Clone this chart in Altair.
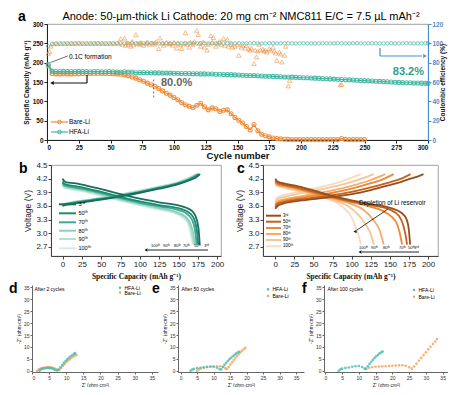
import altair as alt
import pandas as pd

FONT = "Liberation Sans"
ORANGE = "#ee8a35"
TEAL = "#3fb6a2"
BLUE = "#4a8fcf"

# ---------------- panel a data ----------------
A_TITLE = "Anode: 50-µm-thick Li Cathode: 20 mg cm⁻² NMC811 E/C = 7.5 µL mAh⁻²"
CYCLE_TICKS = list(range(0, 301, 25))
CAP_TICKS = list(range(0, 301, 50))
CE_TICKS = list(range(0, 121, 20))

HFA_CYC = list(range(1, 299, 3)) + [300]
HFA_CAP = [195, 178, 177, 177, 177.5, 177, 177, 177, 177.5, 177,
           177, 176.5, 177, 177, 176.5, 176.5, 177, 176.5, 176, 176,
           176.5, 176, 176, 174, 174.5, 174.5, 174, 174, 173.5, 173.5,
           173, 173, 173, 172.5, 172.5, 172, 172, 172, 171.5, 171.5,
           171, 171, 170.5, 170.5, 170, 170, 169.5, 169, 169, 168.5,
           168, 167.5, 167, 167, 166.5, 166, 165.5, 165, 165, 164.5,
           164, 163.5, 163, 163, 162.5, 162, 161.5, 161, 161, 160.5,
           160, 159.5, 159, 158.5, 158, 157.5, 157, 156.5, 156, 155.5,
           155, 154.5, 154, 153.5, 153, 152.5, 152, 151.5, 151, 150.5,
           150, 149.5, 149, 148.5, 148, 148, 147.5, 147.5, 147, 146.5,
           146.5]
HFA_CE = [97.0, 99.4, 99.7, 99.8, 99.9, 100.0, 99.9, 100.0, 100.1, 100.0,
          100.0, 99.9, 100.0, 100.1, 100.0, 99.9, 100.0, 100.0, 100.1, 100.0,
          99.9, 100.0, 100.1, 100.0, 99.9, 100.0, 100.0, 100.1, 100.0, 99.9,
          100.0, 100.1, 100.0, 99.9, 100.0, 100.0, 100.1, 100.0, 99.9, 100.0,
          100.1, 100.0, 99.9, 100.0, 100.0, 100.1, 100.0, 99.9, 100.0, 100.1,
          100.0, 99.9, 100.0, 100.0, 100.1, 100.0, 99.9, 100.0, 100.1, 100.0,
          99.9, 100.0, 100.0, 100.1, 100.0, 99.9, 100.0, 100.1, 100.0, 99.9,
          100.0, 100.0, 100.1, 100.0, 99.9, 100.0, 100.1, 100.0, 99.9, 100.0,
          100.0, 100.1, 100.0, 99.9, 100.0, 100.1, 100.0, 99.9, 100.0, 100.0,
          100.1, 100.0, 99.9, 100.0, 100.1, 100.0, 99.9, 100.0, 100.0, 100.1,
          100.0]

BARE_CYC = list(range(1, 191, 3)) + list(range(193, 251, 3))
BARE_CAP = [192, 172, 171, 171, 171.5, 171, 171, 171.5, 171.5, 172,
            172, 172, 172, 172, 172, 172, 172, 171.5, 171, 170,
            168, 166, 163, 160, 156, 152, 147, 143, 139, 133,
            127, 121, 116, 110, 104, 97, 91, 87, 84, 90,
            95, 86, 78, 83, 81, 74, 77, 78, 68, 58,
            51, 44, 35, 26, 40, 24, 15, 11, 8, 5,
            4, 3, 2, 1.5,
            1, 1, 1, 1, 1, 1, 1, 1, 1, 1,
            1, 1, 1, 4, 1.5, 1, 1, 1, 1, 1]

BARE_CE_CYC = [1, 2, 3, 5, 8, 11, 14, 17, 20, 23, 26, 29, 32, 35, 38, 41, 44, 47, 50, 53,
               56, 58, 59, 61, 62, 63, 64, 66, 67, 68,
               70, 71, 73, 74, 76, 78, 79, 81, 83, 85,
               86, 88, 89, 91, 92, 94, 96, 97, 99, 100,
               102, 103, 105, 106, 108, 109, 110, 112, 113, 115,
               116, 118, 119, 120, 121, 123, 124, 126, 127, 129,
               130, 131, 133, 134, 136, 137, 139, 140, 142, 143,
               145, 146, 148, 150, 151, 153, 154, 156, 157, 159,
               160, 161, 163, 164, 165, 166, 167, 168, 170, 171,
               172, 173, 175, 176, 178, 179, 180, 181, 183, 184,
               185, 187, 188, 190, 191, 231, 232]
BARE_CE = [89.5, 91.5, 97, 99.5, 99.7, 99.8, 99.8, 99.9, 99.8, 99.9, 99.9, 99.8, 99.9, 99.9, 99.8, 99.9, 99.9, 99.8, 99.9, 99.7,
           100, 104.8, 99, 105.5, 98, 101, 99, 97, 102, 98.5,
           109, 100, 99, 101, 98, 100, 101.5, 99, 100.5, 99,
           102, 94.5, 105.5, 100, 98, 101, 99.5, 100, 98, 101,
           95, 100, 98.5, 94.5, 100, 111, 99, 96, 101, 99,
           102, 113.5, 109, 100, 97, 101, 96, 93, 99, 108,
           101, 106, 97, 100, 102, 99, 105, 98, 104, 97,
           99, 96, 97, 98.6, 87.6, 96, 98, 95, 98, 94,
           93, 95, 79, 93, 86, 92, 99, 93, 94, 92,
           93, 91, 94.5, 93, 96, 92, 90, 82.4, 91, 89,
           80.7, 87.6, 97, 55.9, 61.7, 57, 57.5]

RETENTION_CYCLE = [84]
RETENTION_LOW = [110]
RETENTION_HIGH = [158]

# ---------------- panels b / c data ----------------
CYCLE_LABELS = ["3ʳᵈ", "50ᵗʰ", "70ᵗʰ", "80ᵗʰ", "90ᵗʰ", "100ᵗʰ"]
ARROW_LABELS = ["100ᵗʰ", "90ᵗʰ", "80ᵗʰ", "70ᵗʰ", "50ᵗʰ", "3ʳᵈ"]
V_TICKS = [2.7, 3.0, 3.3, 3.6, 3.9, 4.2, 4.5]
CAP_X_TICKS = list(range(0, 201, 25))

B_COLORS = ["#17705d", "#1f8a72", "#3aa98f", "#8ccfbd", "#b2dfd2", "#d3eee6"]
B_CHG_CAP = [[0, 3, 10, 25, 50, 75, 100, 125, 150, 165, 172, 178],
             [0, 3, 10, 25, 50, 75, 100, 125, 150, 165, 171, 177],
             [0, 3, 10, 25, 50, 75, 100, 125, 150, 164, 170, 176],
             [0, 3, 10, 25, 50, 75, 100, 125, 150, 163, 169, 175],
             [0, 3, 10, 25, 50, 75, 100, 125, 150, 162, 168, 174],
             [0, 3, 10, 25, 50, 75, 100, 125, 150, 161, 167, 173]]
B_CHG_V = [[3.60, 3.62, 3.64, 3.68, 3.74, 3.81, 3.89, 3.98, 4.08, 4.17, 4.22, 4.30],
           [3.61, 3.63, 3.65, 3.69, 3.75, 3.82, 3.90, 3.99, 4.09, 4.18, 4.23, 4.30],
           [3.61, 3.63, 3.66, 3.70, 3.76, 3.83, 3.91, 4.00, 4.10, 4.19, 4.24, 4.30],
           [3.62, 3.64, 3.67, 3.71, 3.77, 3.84, 3.92, 4.01, 4.11, 4.19, 4.24, 4.30],
           [3.62, 3.64, 3.67, 3.71, 3.77, 3.85, 3.93, 4.02, 4.12, 4.20, 4.25, 4.30],
           [3.63, 3.65, 3.68, 3.72, 3.78, 3.86, 3.94, 4.03, 4.13, 4.20, 4.25, 4.30]]
B_DIS_CAP = [[0, 2, 5, 15, 25, 50, 75, 100, 125, 150, 160, 168, 172, 175, 176.5, 177.5],
             [0, 2, 5, 15, 25, 50, 75, 100, 125, 150, 159, 166, 170, 173, 174.5, 175.5],
             [0, 2, 5, 15, 25, 50, 75, 100, 125, 150, 158, 164, 168, 171, 172.5, 173.5],
             [0, 2, 5, 15, 25, 50, 75, 100, 125, 145, 154, 160, 164, 168, 170, 171.5],
             [0, 2, 5, 15, 25, 50, 75, 100, 125, 145, 153, 159, 163, 166.5, 168.5, 170],
             [0, 2, 5, 15, 25, 50, 75, 100, 125, 145, 152, 158, 162, 165, 167, 168.5]]
B_DIS_V = [[4.20, 4.15, 4.12, 4.10, 4.07, 3.97, 3.86, 3.76, 3.68, 3.61, 3.56, 3.48, 3.38, 3.20, 3.00, 2.75],
           [4.14, 4.09, 4.07, 4.04, 4.01, 3.91, 3.80, 3.70, 3.62, 3.55, 3.50, 3.42, 3.32, 3.14, 2.95, 2.75],
           [4.11, 4.06, 4.04, 4.01, 3.98, 3.88, 3.77, 3.67, 3.59, 3.51, 3.46, 3.38, 3.28, 3.10, 2.92, 2.75],
           [4.09, 4.04, 4.02, 3.99, 3.96, 3.86, 3.75, 3.65, 3.56, 3.48, 3.42, 3.35, 3.26, 3.08, 2.90, 2.75],
           [4.07, 4.02, 4.00, 3.97, 3.94, 3.84, 3.73, 3.63, 3.54, 3.46, 3.40, 3.33, 3.24, 3.06, 2.88, 2.75],
           [4.05, 4.00, 3.98, 3.95, 3.92, 3.82, 3.71, 3.61, 3.52, 3.44, 3.38, 3.31, 3.22, 3.04, 2.87, 2.75]]

C_COLORS = ["#9a4d1c", "#c4621c", "#e98a34", "#f2ad6e", "#f6c796", "#f9dcc0"]
C_CHG_CAP = [[0, 3, 10, 25, 50, 75, 100, 125, 150, 165, 175, 185, 194],
             [0, 3, 10, 25, 50, 75, 100, 125, 150, 165, 177],
             [0, 3, 10, 25, 50, 75, 100, 125, 140, 155],
             [0, 3, 10, 25, 50, 75, 100, 125, 144],
             [0, 3, 10, 25, 50, 75, 100, 115, 129],
             [0, 3, 10, 25, 50, 75, 95, 112]]
C_CHG_V = [[3.54, 3.60, 3.65, 3.70, 3.75, 3.80, 3.86, 3.95, 4.06, 4.13, 4.19, 4.24, 4.30],
           [3.58, 3.64, 3.68, 3.73, 3.78, 3.84, 3.91, 4.01, 4.12, 4.20, 4.30],
           [3.61, 3.67, 3.71, 3.76, 3.82, 3.89, 3.98, 4.10, 4.18, 4.30],
           [3.64, 3.70, 3.74, 3.79, 3.86, 3.94, 4.04, 4.17, 4.30],
           [3.68, 3.75, 3.79, 3.85, 3.93, 4.02, 4.13, 4.21, 4.30],
           [3.72, 3.79, 3.83, 3.89, 3.98, 4.08, 4.19, 4.30]]
C_DIS_CAP = [[0, 3, 10, 25, 50, 75, 100, 125, 150, 165, 172, 175, 176.5],
             [0, 3, 10, 25, 50, 75, 100, 125, 150, 162, 168, 171, 172.5],
             [0, 3, 10, 25, 50, 75, 100, 125, 145, 158, 163, 166],
             [0, 3, 10, 25, 50, 75, 100, 115, 128, 137, 142],
             [0, 3, 10, 25, 50, 75, 95, 108, 118, 125, 129],
             [0, 3, 10, 25, 50, 75, 90, 100, 106, 110, 112]]
C_DIS_V = [[4.20, 4.14, 4.10, 4.05, 3.94, 3.82, 3.72, 3.64, 3.56, 3.45, 3.30, 3.05, 2.75],
           [4.16, 4.11, 4.07, 4.02, 3.91, 3.80, 3.70, 3.62, 3.52, 3.38, 3.15, 2.92, 2.75],
           [4.13, 4.08, 4.05, 4.00, 3.89, 3.78, 3.68, 3.58, 3.45, 3.25, 3.00, 2.75],
           [4.11, 4.06, 4.03, 3.98, 3.87, 3.76, 3.64, 3.52, 3.30, 3.05, 2.75],
           [4.09, 4.05, 4.02, 3.96, 3.85, 3.73, 3.60, 3.42, 3.20, 2.98, 2.75],
           [4.07, 4.03, 4.00, 3.94, 3.83, 3.72, 3.55, 3.35, 3.10, 2.90, 2.75]]

# ---------------- panels d / e / f data (Nyquist) ----------------
Z_TICKS = list(range(0, 36, 5))
NQ_TEAL = "#4cbfae"
NQ_ORANGE = "#f6a564"

D_HFA_RE = [2.2, 2.5, 3, 3.5, 4, 4.5, 5, 5.5, 6, 6.5, 7, 7.4, 7.8, 8.3, 8.8, 9.3, 9.8, 10.3, 10.8, 11.3, 11.8, 12.3, 12.6]
D_HFA_IM = [0, 0.5, 0.8, 1.0, 1.15, 1.2, 1.2, 1.1, 0.9, 0.6, 0.3, 0.2, 0.6, 1.5, 2.4, 3.3, 4.1, 4.8, 5.5, 6.1, 6.6, 7.1, 7.4]
D_BARE_RE = [1.5, 2, 2.5, 3, 3.5, 4, 4.5, 5, 5.5, 6, 6.5, 7, 7.5, 8, 8.5, 9, 9.5, 10, 10.5, 11, 11.5, 12, 12.5, 13]
D_BARE_IM = [0, 0.6, 0.9, 1.15, 1.3, 1.4, 1.5, 1.5, 1.45, 1.3, 1.0, 0.6, 0.3, 0.4, 1.2, 2.0, 2.8, 3.6, 4.3, 4.9, 5.5, 5.9, 6.3, 6.6]

E_HFA_RE = [3, 3.5, 4, 5, 6, 7, 8, 9, 10, 11, 11.8, 12.3, 12.8, 13.3, 13.8, 14.3, 14.8, 15.3, 15.8, 16.3, 16.8, 17.3, 17.7]
E_HFA_IM = [0, 0.5, 0.8, 1.1, 1.3, 1.5, 1.7, 1.8, 1.7, 1.3, 0.7, 0.6, 1.6, 2.5, 3.3, 4.1, 4.8, 5.5, 6.1, 6.7, 7.2, 7.7, 8.0]
E_BARE_RE = [5, 5.5, 6, 7, 8, 9, 10, 11, 12, 13, 13.6, 14.1, 14.6, 15.1, 15.6, 16.1, 16.6, 17.1, 17.6, 18.1, 18.6, 19.1, 19.6]
E_BARE_IM = [0, 0.6, 0.9, 1.2, 1.5, 1.7, 1.8, 1.9, 1.9, 1.7, 1.0, 0.8, 1.6, 2.6, 3.6, 4.5, 5.4, 6.2, 7.0, 7.7, 8.4, 9.0, 9.6]

F_HFA_RE = [4, 4.5, 5, 6, 7, 8, 9, 10, 11, 11.7, 12.2, 12.7, 13.2, 13.7, 14.2, 14.7, 15.2, 15.7, 16.2, 16.7, 17.1]
F_HFA_IM = [0, 0.6, 0.9, 1.2, 1.4, 1.7, 1.9, 2.0, 1.6, 0.9, 0.9, 1.9, 2.9, 3.8, 4.6, 5.4, 6.1, 6.7, 7.3, 7.8, 8.1]
F_BARE_RE = [12, 13, 14, 15, 16, 17, 18, 19, 20, 21, 22, 23, 24, 25, 25.8, 26.5, 27.2, 27.9, 28.6, 29.3, 30, 30.7, 31.4, 32.1, 32.8, 33.3]
F_BARE_IM = [0.8, 1.3, 1.5, 1.7, 1.8, 1.9, 1.9, 2.0, 2.1, 2.2, 2.3, 2.3, 2.1, 1.5, 0.9, 1.8, 3.0, 4.2, 5.4, 6.6, 7.8, 9.0, 10.1, 11.2, 12.3, 13.3]


# ---------------- helpers ----------------
def T(s, x, y, size, color="black", weight="normal", align="left", baseline="alphabetic", font=FONT):
    return alt.Chart(pd.DataFrame({"t": [s]})).mark_text(
        align=align, baseline=baseline, fontSize=size, fontWeight=weight, color=color, font=font
    ).encode(x=alt.value(x), y=alt.value(y), text="t:N")


def R(x1, y1, x2, y2, color, w=1.0):
    return alt.Chart(pd.DataFrame({"s": [0]})).mark_rule(color=color, strokeWidth=w).encode(
        x=alt.value(x1), y=alt.value(y1), x2=alt.value(x2), y2=alt.value(y2))


def H(x, y, shape, color, size):
    return alt.Chart(pd.DataFrame({"s": [0]})).mark_point(
        shape=shape, filled=True, color=color, size=size, opacity=1, strokeWidth=0).encode(
        x=alt.value(x), y=alt.value(y))


def P(x, y, color, size, filled=True):
    return alt.Chart(pd.DataFrame({"s": [0]})).mark_point(
        shape="circle", filled=filled, color=color, size=size, opacity=1, strokeWidth=1).encode(
        x=alt.value(x), y=alt.value(y))


def M(x, y):
    # invisible extent marker (fixes the bounding box used by the concat layout)
    return alt.Chart(pd.DataFrame({"s": [0]})).mark_point(size=1, opacity=0).encode(
        x=alt.value(x), y=alt.value(y))


def spacer(w, h):
    return alt.Chart(pd.DataFrame({"s": [0]})).mark_point(size=1, opacity=0).encode(
        x=alt.value(0), y=alt.value(0)).properties(width=w, height=h)


FRAME = alt.ViewBackground(stroke="#8a8a8a", strokeWidth=0.8, fill="white")

# ---------------- panel a ----------------
W_A, H_A = 381, 116
SC_CYC = alt.Scale(domain=[0, 300], nice=False, zero=False)
SC_CAP = alt.Scale(domain=[0, 300], nice=False)
SC_CE = alt.Scale(domain=[0, 120], nice=False)
AX_CYC = alt.Axis(values=CYCLE_TICKS, title="Cycle number", labelFontSize=6.5, labelFontWeight="bold",
                  titleFontSize=9.5, titleFontWeight="bold", tickSize=3, labelPadding=1, titlePadding=0,
                  grid=False, domainColor="#222", tickColor="#222", labelColor="#111", titleColor="#111")
AX_CAP = alt.Axis(values=CAP_TICKS, title="Specific Capacity (mAh g⁻¹)", labelFontSize=6.5,
                  labelFontWeight="bold", titleFontSize=6.5, titleFontWeight="bold", tickSize=3,
                  labelPadding=1, titlePadding=3, grid=False, domainColor="#222", tickColor="#222",
                  labelColor="#111", titleColor="#111")
AX_CE = alt.Axis(values=CE_TICKS, orient="right", title="Coulombic efficiency (%)", labelFontSize=6.5,
                 labelFontWeight="bold", titleFontSize=6.5, titleFontWeight="bold", tickSize=3,
                 labelPadding=1, titlePadding=3, grid=False, domainColor=BLUE, tickColor=BLUE,
                 labelColor=BLUE, titleColor="#111", titleAngle=270)

df_hfa = pd.DataFrame(list(zip(HFA_CYC, HFA_CAP)), columns=["cycle", "cap"])
df_hfa_ce = pd.DataFrame(list(zip(HFA_CYC, HFA_CE)), columns=["cycle", "ce"])
df_bare = pd.DataFrame(list(zip(BARE_CYC, BARE_CAP)), columns=["cycle", "cap"])
df_bare_ce = pd.DataFrame(list(zip(BARE_CE_CYC, BARE_CE)), columns=["cycle", "ce"])
df_ret = pd.DataFrame({"cycle": RETENTION_CYCLE, "lo": RETENTION_LOW, "hi": RETENTION_HIGH})

xA = alt.X("cycle:Q", scale=SC_CYC, axis=AX_CYC)
yCap = alt.Y("cap:Q", scale=SC_CAP, axis=AX_CAP)
yCE = alt.Y("ce:Q", scale=SC_CE, axis=AX_CE)

bare_line = alt.Chart(df_bare).mark_line(color=ORANGE, strokeWidth=1.2).encode(x=xA, y=yCap)
bare_pts = alt.Chart(df_bare).mark_point(shape="circle", filled=False, color=ORANGE, size=16,
                                          strokeWidth=1.1, opacity=0.9).encode(x=xA, y=yCap)
hfa_line = alt.Chart(df_hfa).mark_line(color=TEAL, strokeWidth=1.2).encode(x=xA, y=yCap)
hfa_pts = alt.Chart(df_hfa).mark_point(shape="circle", filled=False, color=TEAL, size=16,
                                        strokeWidth=1.1, opacity=0.9).encode(x=xA, y=yCap)
ret_line = alt.Chart(df_ret).mark_rule(color="#777", strokeWidth=1, strokeDash=[2, 2]).encode(
    x=xA, y=alt.Y("lo:Q", scale=SC_CAP, axis=AX_CAP), y2="hi:Q")

a_annot = [
    M(-38, -15), M(-38, 140),
    T(A_TITLE, 194, -4, 11, align="center"),
    T("a", -29, -3, 14, weight="bold"),
    T("0.1C formation", 22, 35, 6.5),
    R(20.7, 32, 3.5, 38.5, "#333", 0.7),
    R(40, 51, 40, 59, "#111", 1.2),
    R(40, 59, 7, 59, "#111", 1.2),
    H(5, 59, "triangle-left", "#111", 18),
    R(333, 24, 333, 32, BLUE, 1.2),
    R(333, 32, 375, 32, BLUE, 1.2),
    H(378, 32, "triangle-right", BLUE, 18),
    T("80.0%", 114, 58.5, 11, color="#666", weight="bold", baseline="middle"),
    T("83.2%", 377, 48, 11, color="#2e9e8c", weight="bold", align="right", baseline="middle"),
    R(4, 98, 21, 98, ORANGE, 1.2), P(12.5, 98, ORANGE, 14, filled=False),
    T("Bare-Li", 22, 98, 6.5, baseline="middle"),
    R(4, 108, 21, 108, TEAL, 1.2), P(12.5, 108, TEAL, 14, filled=False),
    T("HFA-Li", 22, 108, 6.5, baseline="middle"),
]

cap_layer = alt.layer(bare_line, bare_pts, hfa_line, hfa_pts, ret_line, *a_annot)
hfa_ce_pts = alt.Chart(df_hfa_ce).mark_point(shape="circle", filled=False, color=TEAL, size=12,
                                              strokeWidth=1).encode(x=xA, y=yCE)
bare_ce_pts = alt.Chart(df_bare_ce).mark_point(shape="triangle-up", filled=False, color=ORANGE, size=20,
                                                strokeWidth=0.8).encode(x=xA, y=yCE)
ce_layer = alt.layer(hfa_ce_pts, bare_ce_pts)
panel_a = alt.layer(cap_layer, ce_layer).resolve_scale(y="independent").properties(
    width=W_A, height=H_A, view=FRAME)

# ---------------- panels b, c ----------------
H_V = 91
AX_VX = alt.Axis(values=CAP_X_TICKS, title="Specific Capacity (mAh g⁻¹)", labelFontSize=8,
                 titleFont="Liberation Serif", titleFontSize=7.5, titleFontWeight="bold",
                 tickSize=3, labelPadding=1, titlePadding=4, grid=False,
                 domainColor="#444", tickColor="#444", labelColor="#222", titleColor="#111")
AX_VY = alt.Axis(values=V_TICKS, format=".1f", title="Voltage (V)", labelFontSize=8, titleFontSize=8.5,
                 titleFontWeight="normal", tickSize=3, labelPadding=1, titlePadding=3, grid=False,
                 domainColor="#444", tickColor="#444", labelColor="#222", titleColor="#222")


def volt_panel(colors, chg_caps, chg_vs, dis_caps, dis_vs, xdom, width, extras):
    x = alt.X("cap:Q", scale=alt.Scale(domain=xdom, nice=False, zero=False), axis=AX_VX)
    y = alt.Y("v:Q", scale=alt.Scale(domain=[2.5, 4.5], nice=False, zero=False), axis=AX_VY)
    layers = []
    for i in reversed(range(len(colors))):
        for caps, vs in ((chg_caps[i], chg_vs[i]), (dis_caps[i], dis_vs[i])):
            df = pd.DataFrame(list(zip(caps, vs, range(len(caps)))), columns=["cap", "v", "o"])
            layers.append(alt.Chart(df).mark_line(color=colors[i], strokeWidth=1.8,
                                                  interpolate="monotone").encode(x=x, y=y, order="o:Q"))
    return alt.layer(*layers, *extras).properties(width=width, height=H_V, view=FRAME)


b_extras = [M(-42, -7), M(-42, 116), T("b", -32, 8, 14, weight="bold")]
for i, (lab, col) in enumerate(zip(CYCLE_LABELS, B_COLORS)):
    yy = [39.3, 48.3, 57.3, 65.7, 74, 83.3][i]
    b_extras.append(R(8, yy, 25, yy, col, 2))
    b_extras.append(T(lab, 27.5, yy, 5.5, baseline="middle"))
b_extras += [R(157, 85, 97, 85, "#111", 0.9), H(95, 85, "triangle-left", "#111", 12)]
for lab, xx in zip(ARROW_LABELS, [100, 112, 123, 132, 143, 153]):
    b_extras.append(T(lab, xx, 82, 4))

c_extras = [T("c", -26, 8, 14, weight="bold")]
for i, (lab, col) in enumerate(zip(CYCLE_LABELS, C_COLORS)):
    yy = [50.7, 56.7, 63, 69, 75, 81.3][i]
    c_extras.append(R(3, yy, 18, yy, col, 2))
    c_extras.append(T(lab, 20, yy, 4.5, baseline="middle"))
c_extras += [R(156, 87, 99, 87, "#111", 0.9), H(97, 87, "triangle-left", "#111", 12)]
for lab, xx in zip(ARROW_LABELS, [96, 108, 120, 136, 145, 151]):
    c_extras.append(T(lab, xx, 84, 4))
c_extras += [T("Depletion of Li reservoir", 96, 38, 6.3, baseline="middle"),
             R(125, 44, 94, 65, "#222", 0.9), H(92, 66.5, "triangle-left", "#222", 14)]

panel_b = volt_panel(B_COLORS, B_CHG_CAP, B_CHG_V, B_DIS_CAP, B_DIS_V, [-15, 205], 170, b_extras)
panel_c = volt_panel(C_COLORS, C_CHG_CAP, C_CHG_V, C_DIS_CAP, C_DIS_V, [-16, 213], 175, c_extras)

# ---------------- panels d, e, f ----------------
H_N = 87
AX_NX = alt.Axis(values=Z_TICKS, title="Z' (ohm·cm²)", labelFontSize=5, titleFontSize=4.8,
                 titleFontWeight="normal", tickSize=2, labelPadding=1, titlePadding=2, grid=False,
                 domainColor="#666", tickColor="#666", labelColor="#333", titleColor="#222")
AX_NY = alt.Axis(values=Z_TICKS, title="-Z'' (ohm·cm²)", labelFontSize=5, titleFontSize=4.8,
                 titleFontWeight="normal", tickSize=2, labelPadding=1, titlePadding=2, grid=False,
                 domainColor="#666", tickColor="#666", labelColor="#333", titleColor="#222")


def nyq_panel(letter, letter_x, note, note_x, hre, him, bre, bim, xdom, width, leg, markers):
    x = alt.X("re:Q", scale=alt.Scale(domain=xdom, nice=False, zero=False), axis=AX_NX)
    y = alt.Y("im:Q", scale=alt.Scale(domain=[-0.5, 36], nice=False, zero=False), axis=AX_NY)
    dfh = pd.DataFrame(list(zip(hre, him)), columns=["re", "im"])
    dfb = pd.DataFrame(list(zip(bre, bim)), columns=["re", "im"])
    ph = alt.Chart(dfh).mark_point(shape="circle", filled=True, color=NQ_TEAL, size=7,
                                   opacity=0.85).encode(x=x, y=y)
    pb = alt.Chart(dfb).mark_point(shape="circle", filled=True, color=NQ_ORANGE, size=7,
                                   opacity=0.85).encode(x=x, y=y)
    lx, ly1, ly2 = leg
    extras = list(markers) + [
        T(letter, letter_x, 7.7, 14, weight="bold"),
        T(note, note_x, 3.5, 5, baseline="middle"),
        P(lx, ly1, NQ_TEAL, 6), T("HFA-Li", lx + 4.5, ly1, 5, baseline="middle"),
        P(lx, ly2, NQ_ORANGE, 6), T("Bare-Li", lx + 4.5, ly2, 5, baseline="middle")]
    return alt.layer(pb, ph, *extras).properties(width=width, height=H_N)


panel_d = nyq_panel("d", -23, "After 2 cycles", 2.5, D_HFA_RE, D_HFA_IM, D_BARE_RE, D_BARE_IM,
                    [0, 36.8], 126, (88, 2.7, 7.5), [M(-23, -12)])
panel_e = nyq_panel("e", -26, "After 50 cycles", 3.5, E_HFA_RE, E_HFA_IM, E_BARE_RE, E_BARE_IM,
                    [-0.8, 37.4], 126, (90, 4.3, 11), [])
panel_f = nyq_panel("f", -22, "After 100 cycles", 3.5, F_HFA_RE, F_HFA_IM, F_BARE_RE, F_BARE_IM,
                    [-0.4, 36.6], 124, (90, 5, 11.7), [])

# ---------------- layout ----------------
row1 = alt.hconcat(spacer(15, 10), panel_a, spacing=0, bounds="flush")
row2 = alt.hconcat(spacer(19, 10), alt.hconcat(panel_b, panel_c, spacing=42, bounds="flush"),
                   spacing=0, bounds="flush")
row3 = alt.hconcat(panel_d, panel_e, panel_f, spacing=20, bounds="flush")

chart = alt.vconcat(row1, row2, row3, spacing=-10).properties(
    padding={"left": 0, "top": 0, "right": 0, "bottom": 0},
    background="white",
).configure_view(strokeWidth=0).configure_axis(labelFont=FONT, titleFont=FONT)

chart.save("out.html", embed_options={"renderer": "svg", "actions": False})
